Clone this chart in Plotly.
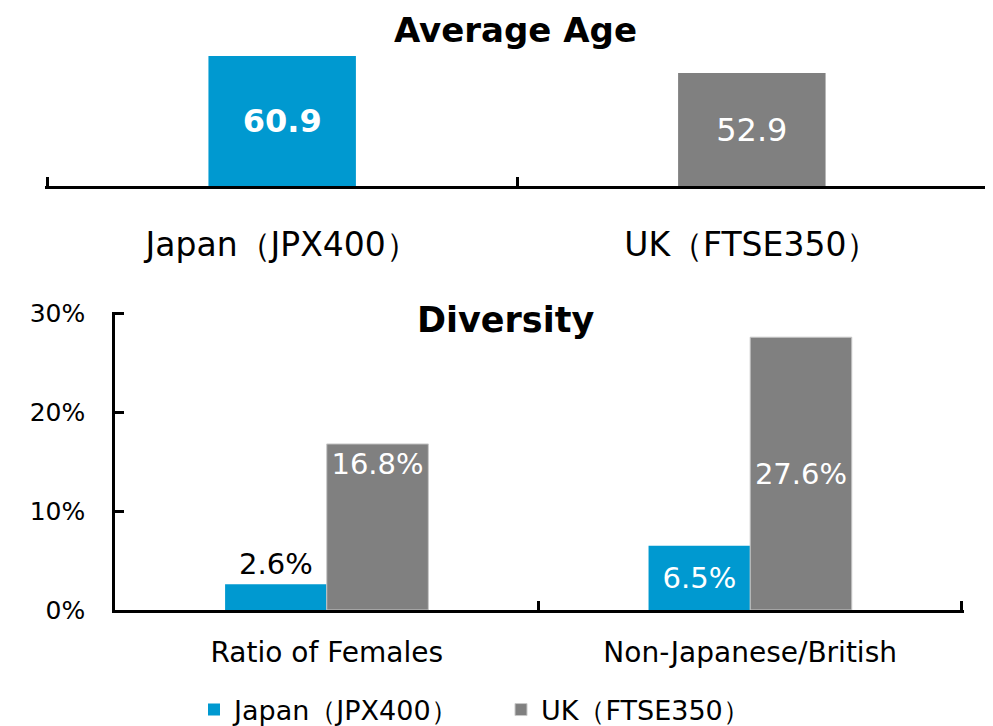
import plotly.graph_objects as go

# ---------------- data ----------------
age_categories = ["Japan（JPX400）", "UK（FTSE350）"]
age_values = [60.9, 52.9]

diversity_categories = ["Ratio of Females", "Non-Japanese/British"]
series_names = ["Japan（JPX400）", "UK（FTSE350）"]
japan_diversity = [0.026, 0.065]
uk_diversity = [0.168, 0.276]
diversity_ticks = [0, 0.10, 0.20, 0.30]

# ---------------- style ----------------
BLUE = "#0099D0"
GRAY = "#808080"
FONT = "DejaVu Sans"
PAGE_W, PAGE_H = 993, 726
OFF = 8  # default body margin of the html page
W, H = PAGE_W - OFF, PAGE_H - OFF


def px(x):
    return min(1.0, max(0.0, (x - OFF) / W))


def py(y):
    return min(1.0, max(0.0, (H - (y - OFF)) / H))


fig = go.Figure()

# Top chart: Average Age
fig.add_trace(go.Bar(
    x=age_categories, y=age_values,
    xaxis="x", yaxis="y",
    marker=dict(color=[BLUE, GRAY], line=dict(width=0)),
    width=0.314,
    texttemplate=["<b>%{y:.1f}</b>", "%{y:.1f}"],
    textposition="inside", insidetextanchor="middle",
    textfont=dict(color="white", size=32, family=FONT),
    showlegend=False, hoverinfo="skip",
))

# Bottom chart: Diversity
fig.add_trace(go.Bar(
    x=diversity_categories, y=japan_diversity,
    xaxis="x2", yaxis="y2",
    name=series_names[0], offsetgroup="jp", legendgroup="jp",
    marker=dict(color=BLUE, line=dict(width=0)),
    texttemplate="%{y:.1%}",
    textposition=["outside", "inside"], insidetextanchor="middle",
    insidetextfont=dict(color="white", size=29, family=FONT),
    outsidetextfont=dict(color="black", size=29, family=FONT),
    cliponaxis=False, hoverinfo="skip",
))
uk_anchor = ["end", "middle"]
for i, cat in enumerate(diversity_categories):
    fig.add_trace(go.Bar(
        x=[cat], y=[uk_diversity[i]],
        xaxis="x2", yaxis="y2",
        name=series_names[1], offsetgroup="uk", legendgroup="uk",
        showlegend=(i == 0),
        marker=dict(color=GRAY, line=dict(width=1, color="#c9c9c9")),
        texttemplate="%{y:.1%}",
        textposition="inside", insidetextanchor=uk_anchor[i],
        insidetextfont=dict(color="white", size=29, family=FONT),
        hoverinfo="skip",
    ))

# category boundaries (for the tick marks of the category axes)
n_cat = len(age_categories)
boundaries = [k - 0.5 for k in range(n_cat + 1)]
cat_range = [-0.505, n_cat - 0.5 + 0.005]

# invisible helper traces so the boundary-tick axes get drawn
for xa, ya in (("x3", "y"), ("x4", "y2")):
    fig.add_trace(go.Scatter(
        x=boundaries, y=[None] * len(boundaries), xaxis=xa, yaxis=ya,
        mode="markers", marker=dict(opacity=0), showlegend=False,
        hoverinfo="skip",
    ))

tick_style = dict(ticks="inside", ticklen=9, tickwidth=2.5, tickcolor="black")
line_style = dict(showline=True, linecolor="black", linewidth=2.5,
                  showgrid=False, zeroline=False, fixedrange=True)

top_dom = [px(45), px(989)]
bot_dom = [px(115), px(964)]

fig.update_layout(
    width=W, height=H, autosize=False,
    margin=dict(l=0, r=0, t=0, b=0, autoexpand=False),
    paper_bgcolor="white", plot_bgcolor="white",
    font=dict(family=FONT, color="black"),
    barmode="group", bargap=0.52, bargroupgap=0,
    xaxis=dict(
        domain=top_dom, anchor="y", range=cat_range, ticks="",
        tickfont=dict(size=33), ticklabelstandoff=28,
        **line_style,
    ),
    xaxis3=dict(
        domain=top_dom, anchor="y", overlaying="x", type="linear",
        range=cat_range, tickvals=boundaries, showticklabels=False,
        showline=False, showgrid=False, zeroline=False, fixedrange=True,
        **tick_style,
    ),
    yaxis=dict(
        domain=[py(186), py(50)], anchor="x",
        range=[0, 63.7], visible=False, fixedrange=True,
    ),
    xaxis2=dict(
        domain=bot_dom, anchor="y2", range=[-0.5, cat_range[1]], ticks="",
        tickfont=dict(size=28), ticklabelstandoff=16,
        **line_style,
    ),
    xaxis4=dict(
        domain=bot_dom, anchor="y2", overlaying="x2", type="linear",
        range=[-0.5, cat_range[1]], tickvals=boundaries, showticklabels=False,
        showline=False, showgrid=False, zeroline=False, fixedrange=True,
        **tick_style,
    ),
    yaxis2=dict(
        domain=[py(610), py(312)], anchor="x2",
        range=[0, 0.3015], tickvals=diversity_ticks, tickformat=".0%",
        tickfont=dict(size=25), ticklabelstandoff=22,
        **line_style, **tick_style,
    ),
    legend=dict(
        orientation="h", x=px(194), xanchor="left",
        y=py(710), yanchor="middle",
        font=dict(size=27), traceorder="normal",
        entrywidth=262, entrywidthmode="pixels",
        bgcolor="rgba(0,0,0,0)",
    ),
    annotations=[
        dict(text="<b>Average Age</b>", x=px(516), y=1.0,
             xref="paper", yref="paper", showarrow=False,
             xanchor="center", yanchor="top",
             font=dict(size=34, color="black", family=FONT)),
        dict(text="<b>Diversity</b>", x=px(505), y=py(320),
             xref="paper", yref="paper", showarrow=False,
             xanchor="center", yanchor="middle",
             font=dict(size=35, color="black", family=FONT)),
    ],
)

fig.write_html("out.html")
